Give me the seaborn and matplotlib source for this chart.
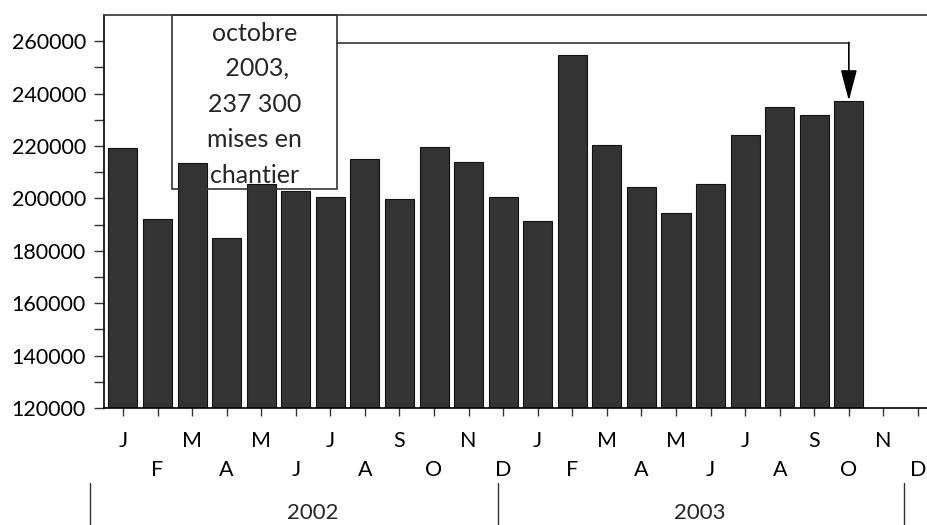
import numpy as np
import pandas as pd
import matplotlib
matplotlib.use("Agg")
from matplotlib import pyplot as plt
from matplotlib.patches import Rectangle, FancyArrowPatch
import matplotlib.transforms as mtransforms
import seaborn as sns

# mises en chantier, janvier 2002 -> octobre 2003
months = ["2002-%02d" % m for m in range(1, 13)] + ["2003-%02d" % m for m in range(1, 13)]
values = [219200, 192100, 213500, 184900, 205500, 202900, 200400, 215100,
          199800, 219800, 214000, 200400,
          191300, 254900, 220500, 204400, 194500, 205500, 224300, 234800,
          232000, 237300]
month_letters = ["J", "F", "M", "A", "M", "J", "J", "A", "S", "O", "N", "D"] * 2
years = ["2002", "2003"]
note = "octobre\n 2003,\n237 300\nmises en\nchantier"

df = pd.DataFrame({"mois": months[:len(values)], "mises": values})

sns.set_theme(style="ticks")
plt.rcParams["font.family"] = ["Lato", "DejaVu Sans"]

fig = plt.figure(figsize=(9.28, 5.25), dpi=100)
ax = fig.add_axes([0.112, 0.2229, 0.888, 0.7485])

sns.barplot(data=df, x="mois", y="mises", order=months, color="#333333",
            saturation=1, width=0.84, edgecolor="#111111", linewidth=0.8, ax=ax)

ax.set_xlim(-0.55, 23.29)
ax.set_ylim(120000, 270000)
ax.set_xlabel("")
ax.set_ylabel("")

# y axis
ax.set_yticks(np.arange(120000, 260001, 20000))
ax.set_yticks(np.arange(130000, 270000, 20000), minor=True)
ax.set_yticklabels([str(v) for v in range(120000, 260001, 20000)])
ax.tick_params(axis="y", which="both", direction="out", length=7, width=1,
               color="#333333", labelsize=15.5, pad=6, labelcolor="black")

# x axis: two rows of month letters
even = list(range(0, 24, 2))
odd = list(range(1, 24, 2))
ax.set_xticks(even, [month_letters[i] for i in even])
ax.set_xticks(odd, [month_letters[i] for i in odd], minor=True)
ax.tick_params(axis="x", which="both", direction="out", length=6, width=1,
               color="#333333", labelsize=15.5, labelcolor="black")
ax.tick_params(axis="x", which="major", pad=10.5)
ax.tick_params(axis="x", which="minor", pad=31.5)

for side in ["left", "bottom"]:
    ax.spines[side].set_color("black")
    ax.spines[side].set_linewidth(1.2)
ax.spines["top"].set_color("#333333")
ax.spines["top"].set_linewidth(1.2)
ax.spines["right"].set_visible(False)

# years row
trans = mtransforms.blended_transform_factory(ax.transData, ax.transAxes)
for xs in [-0.95, 10.85, 22.59]:
    ax.plot([xs, xs], [-0.191, -0.31], color="#333333", lw=1, transform=trans,
            clip_on=False)
for xs, label in zip([5.5, 16.7], years):
    ax.text(xs, -0.267, label, transform=trans, ha="center", va="center",
            fontsize=16)

# annotation box
box = Rectangle((1.42, 203600), 6.19 - 1.42, 270000 - 203600, facecolor="none",
                edgecolor="#333333", lw=1.2, zorder=5, clip_on=False)
ax.add_patch(box)
ax.text(3.8, 236000, note, ha="center", va="center", fontsize=18,
        linespacing=1.66, zorder=6)

# connector to october 2003
ax.plot([6.19, 21], [259500, 259500], color="#333333", lw=1.2, zorder=5)
arrow = FancyArrowPatch((21, 259500), (21, 237300),
                        arrowstyle="-|>,head_length=1.9,head_width=0.5",
                        mutation_scale=10, color="black", lw=1.2,
                        shrinkA=0, shrinkB=0, zorder=6)
ax.add_patch(arrow)

fig.savefig("out.png", dpi=100)
